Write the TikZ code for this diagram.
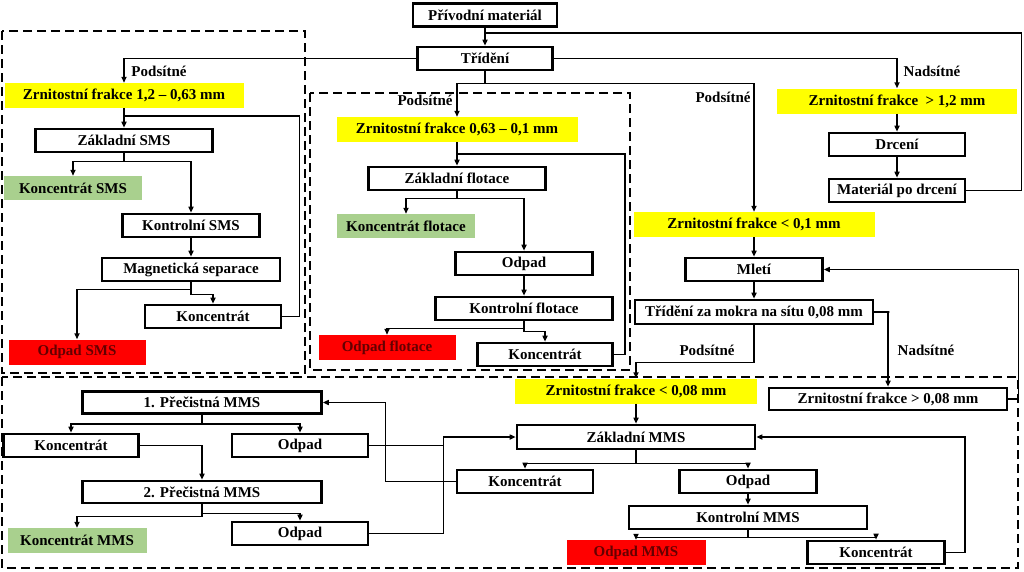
\documentclass[tikz,border=0pt]{standalone}
\usepackage{fontspec}
\setmainfont{Liberation Serif}
\usepackage{xcolor}
\usetikzlibrary{arrows.meta, positioning, calc}
\definecolor{hlyellow}{RGB}{255,255,0}
\definecolor{hlgreen}{RGB}{169,208,142}
\definecolor{hlred}{RGB}{255,0,0}
\definecolor{redtext}{RGB}{100,0,0}

\begin{document}
\begin{tikzpicture}[x=1pt, y=-1pt,
  every node/.style={font=\fontsize{15}{17}\selectfont\bfseries, inner sep=0pt},
  box/.style={draw, line width=2.6pt, fill=white, minimum height=23pt},
  yel/.style={fill=hlyellow, minimum height=25pt},
  grn/.style={fill=hlgreen, minimum height=24pt},
  waste/.style={fill=hlred, text=redtext, minimum height=25pt},
  frame/.style={draw, dash pattern=on 9pt off 5pt, line width=2.5pt},
  line/.style={line width=1.5pt},
  arr/.style={line width=1.5pt, -{Triangle[length=6pt, width=5pt]}}]
\useasboundingbox (0,0) rectangle (1024,571);

\draw[frame] (2,31) rectangle (305,373);
\draw[frame] (310,93) rectangle (630,370);
\draw[frame] (2,377) rectangle (1018,568);

\node[box, minimum width=144pt] (prim) at (485,15) {Přívodní materiál};
\node[box, minimum width=135pt] (sort) at (485,58.5) {Třídění};

\node[yel, minimum width=239pt] (fr1) at (124,95.5) {Zrnitostní frakce 1,2 – 0,63 mm};
\node[box, minimum width=177pt] (zsms) at (124,140.5) {Základní SMS};
\node[grn, minimum width=138pt] (ksms) at (73,188) {Koncentrát SMS};
\node[box, minimum width=137pt] (kosms) at (191,225.5) {Kontrolní SMS};
\node[box, minimum width=178pt] (magsep) at (191,269.5) {Magnetická separace};
\node[box, minimum width=136pt] (konc1) at (213,316.5) {Koncentrát};
\node[waste, minimum width=137pt] (odsms) at (77,352) {Odpad SMS};

\node[yel, minimum width=241pt] (fr2) at (457,129.5) {Zrnitostní frakce 0,63 – 0,1 mm};
\node[box, minimum width=177pt] (zflot) at (457,178.5) {Základní flotace};
\node[grn, minimum width=138pt] (kflot) at (406,226) {Koncentrát flotace};
\node[box, minimum width=137pt] (odp2) at (524,263.5) {Odpad};
\node[box, minimum width=177pt] (koflot) at (524,308.5) {Kontrolní flotace};
\node[box, minimum width=135pt] (konc2) at (545,354.5) {Koncentrát};
\node[waste, minimum width=137pt] (odflot) at (387,347.5) {Odpad flotace};

\node[yel, minimum width=240pt] (fr3) at (897,101) {Zrnitostní frakce \ > 1,2 mm};
\node[box, minimum width=136pt] (drc) at (897,144.5) {Drcení};
\node[box, minimum width=136pt] (drcmat) at (897,190.5) {Materiál po drcení};

\node[yel, minimum width=241pt] (fr4) at (754,224.5) {Zrnitostní frakce < 0,1 mm};
\node[box, minimum width=137pt] (mlet) at (754,269.5) {Mletí};
\node[box, minimum width=238pt, minimum height=24pt] (sortw) at (754,312) {Třídění za mokra na sítu 0,08 mm};

\node[yel, minimum width=242pt] (fr5) at (636,391) {Zrnitostní frakce < 0,08 mm};
\node[box, minimum width=238pt, minimum height=24pt] (zmms) at (636,437) {Základní MMS};
\node[box, minimum width=136pt] (konc3) at (525,481.5) {Koncentrát};
\node[box, minimum width=137pt] (odp3) at (748,481.5) {Odpad};
\node[box, minimum width=238pt] (komms) at (748,517.5) {Kontrolní MMS};
\node[waste, minimum width=139pt] (odmms) at (636,552.5) {Odpad MMS};
\node[box, minimum width=137pt] (konc4) at (876,552.5) {Koncentrát};
\node[box, minimum width=238pt, minimum height=22pt] (fr6) at (888,399) {Zrnitostní frakce > 0,08 mm};

\node[box, minimum width=239pt, minimum height=22pt] (prc1) at (202,402.5) {1. Přečistná MMS};
\node[box, minimum width=135pt] (konc5) at (71,445.5) {Koncentrát};
\node[box, minimum width=136pt] (odp4) at (300,445.5) {Odpad};
\node[box, minimum width=239pt, minimum height=22pt] (prc2) at (202,492) {2. Přečistná MMS};
\node[grn, minimum width=139pt, minimum height=25pt] (kmms) at (77,540.5) {Koncentrát MMS};
\node[box, minimum width=136pt] (odp5) at (300,533.5) {Odpad};

\node (pod1) at (159,71) {Podsítné};
\node (pod2) at (425,100) {Podsítné};
\node (pod3) at (723,97) {Podsítné};
\node (nad1) at (932,71) {Nadsítné};
\node (pod4) at (707,350) {Podsítné};
\node (nad2) at (926,350) {Nadsítné};

\coordinate (jtop) at ($(prim.south)!0.3!(sort.north)$);
\coordinate (jsms) at ($(fr1.south)!0.4!(zsms.north)$);
\coordinate (jflot) at ($(fr2.south)!0.5!(zflot.north)$);
\coordinate (jodp) at ($(odp4.east)+(74,0)$);

\draw[arr] (prim) -- (sort);
\draw[line] (drcmat.east) -- ++(55,0) |- (jtop);
\draw[arr] (sort.west) -| (fr1.north);
\draw[arr] (sort.east) -| (fr3.north);
\draw[arr] (sort.south) -- ++(0,12) -| (fr4.north);
\draw[arr] (sort.south) -- ++(0,12) -| (fr2.north);

\draw[arr] (fr1) -- (zsms);
\draw[arr] (zsms.south) -- ++(0,8) -| (ksms.north);
\draw[arr] (zsms.south) -- ++(0,8) -| (kosms.north);
\draw[arr] (kosms) -- (magsep);
\draw[arr] (magsep.south) -- ++(0,7) -| (odsms.north);
\draw[arr] (magsep.south) -- ++(0,12) -| (konc1.north);
\draw[line] (konc1.east) -- ++(17,0) |- (jsms);

\draw[arr] (fr2) -- (zflot);
\draw[arr] (zflot.south) -- ++(0,7) -| (kflot.north);
\draw[arr] (zflot.south) -- ++(0,7) -| (odp2.north);
\draw[arr] (odp2) -- (koflot);
\draw[arr] (koflot.south) -- ++(0,7) -| (odflot.north);
\draw[arr] (koflot.south) -- ++(0,10) -| (konc2.north);
\draw[line] (konc2.east) -- ++(11,0) |- (jflot);

\draw[arr] (fr3) -- (drc);
\draw[arr] (drc) -- (drcmat);

\draw[arr] (fr4) -- (mlet);
\draw[arr] (mlet) -- (sortw);
\draw[arr] (sortw.south) -- ++(0,37) -| (fr5.north);
\draw[arr] (sortw.east) -- ++(15,0) -| (fr6.north);
\draw[arr] (fr6.east) -- ++(10,0) |- (mlet.east);

\draw[arr] (fr5) -- (zmms);
\draw[arr] (zmms.south) -- ++(0,13) -| (konc3.north);
\draw[arr] (zmms.south) -- ++(0,13) -| (odp3.north);
\draw[arr] (odp3) -- (komms);
\draw[arr] (komms.south) -- ++(0,7) -| (odmms.north);
\draw[arr] (komms.south) -- ++(0,7) -| (konc4.north);
\draw[arr] (konc4.east) -- ++(19,0) |- (zmms.east);

\draw[arr] (konc3.west) -- ++(-70,0) |- (prc1.east);
\draw[arr] (odp4.east) -- (jodp) |- (zmms.west);
\draw[line] (odp5.east) -| (jodp);
\draw[arr] (prc1.south) -- ++(0,9) -| (konc5.north);
\draw[arr] (prc1.south) -- ++(0,9) -| (odp4.north);
\draw[arr] (konc5.east) -| (prc2.north);
\draw[arr] (prc2.south) -- ++(0,12) -| (kmms.north);
\draw[arr] (prc2.south) -- ++(0,9) -| (odp5.north);
\end{tikzpicture}
\end{document}
